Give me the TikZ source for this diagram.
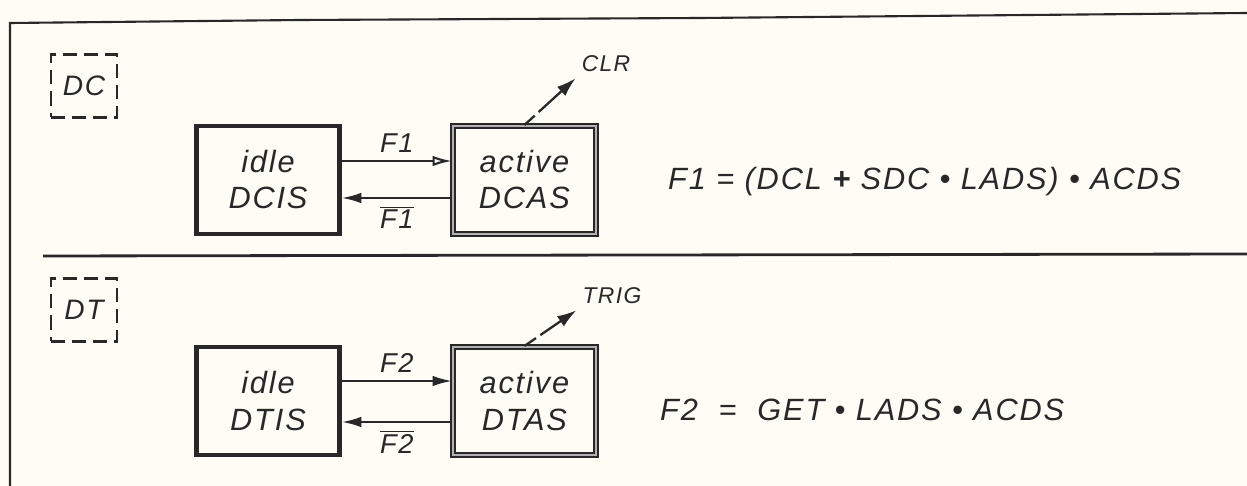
\documentclass[tikz,border=0pt]{standalone}
\usepackage{fontspec}
\setmainfont{Liberation Sans}
\newfontfamily\plotfont[LetterSpace=6]{Liberation Sans}
\usetikzlibrary{arrows.meta,positioning}
\definecolor{paper}{RGB}{253,253,246}
\definecolor{ink}{RGB}{40,40,40}

\begin{document}
\begin{tikzpicture}[
  x=0.02cm, y=-0.02cm,
  node distance=2.2cm,
  every node/.style={text=ink},
  idlebox/.style={draw=ink, line width=2.8pt, minimum width=2.86cm, minimum height=2.16cm,
                  align=center, font=\plotfont\itshape\fontsize{17.5}{20.5}\selectfont},
  actbox/.style={idlebox, line width=1.1pt, double=gray!60, double distance=1.4pt},
  tagbox/.style={draw=ink, line width=1.4pt, dash pattern=on 8pt off 4pt,
                 minimum width=1.32cm, minimum height=1.26cm, font=\plotfont\itshape\fontsize{16}{18}\selectfont},
  arr/.style={-{Latex[length=11pt,width=6pt]}, draw=ink, line width=1.2pt},
  sig/.style={-{Latex[length=11pt,width=7pt]}, draw=ink, line width=1.3pt, dash pattern=on 8pt off 3pt on 40pt},
  lbl/.style={font=\plotfont\itshape\fontsize{15.5}{17}\selectfont},
  outlbl/.style={font=\plotfont\itshape\fontsize{13}{15}\selectfont},
  eqn/.style={anchor=west, font=\plotfont\itshape\fontsize{17.5}{20}\selectfont},
  rim/.style={draw=ink, line width=1.2pt}
]
  \fill[paper] (0,0) rectangle (1247,486);
  \useasboundingbox (0,0) rectangle (1247,486);

  \draw[rim] (10,486) -- (10,23) -- (300,20) -- (700,18) -- (1247,13);
  \draw[rim, line width=1.6pt] (43,256) -- (1247,254);

  \node[tagbox] (dc) at (84,86) {DC};
  \node[idlebox] (dcis) at (268,180) {idle\\DCIS};
  \node[actbox, right=of dcis] (dcas) {active\\DCAS};
  \node[outlbl] (clr) at (606,64) {CLR};
  \node[eqn] (eqa) at (662,182) {F1 = (DCL \textbf{+} SDC • LADS) • ACDS};

  \draw[arr, -{Latex[open,length=11pt,width=6pt]}] ([yshift=0.38cm]dcis.east) -- ([yshift=0.38cm]dcas.west)
    node[lbl, midway, above=1pt] {F1};
  \draw[arr] ([yshift=-0.36cm]dcas.west) -- ([yshift=-0.36cm]dcis.east)
    node[lbl, midway, below=1pt] {$\overline{\mbox{F1}}$};
  \draw[sig] (dcas.north) -- (clr.south west);

  \node[tagbox] (dt) at (84,310) {DT};
  \node[idlebox] (dtis) at (268,401) {idle\\DTIS};
  \node[actbox, right=of dtis] (dtas) {active\\DTAS};
  \node[outlbl] (trig) at (612,296) {TRIG};
  \node[eqn] (eqb) at (654,410) {F2 \ = \ GET • LADS • ACDS};

  \draw[arr] ([yshift=0.4cm]dtis.east) -- ([yshift=0.4cm]dtas.west)
    node[lbl, midway, above=1pt] {F2};
  \draw[arr] ([yshift=-0.42cm]dtas.west) -- ([yshift=-0.42cm]dtis.east)
    node[lbl, midway, below=1pt] {$\overline{\mbox{F2}}$};
  \draw[sig] (dtas.north) -- (trig.south west);
\end{tikzpicture}
\end{document}
